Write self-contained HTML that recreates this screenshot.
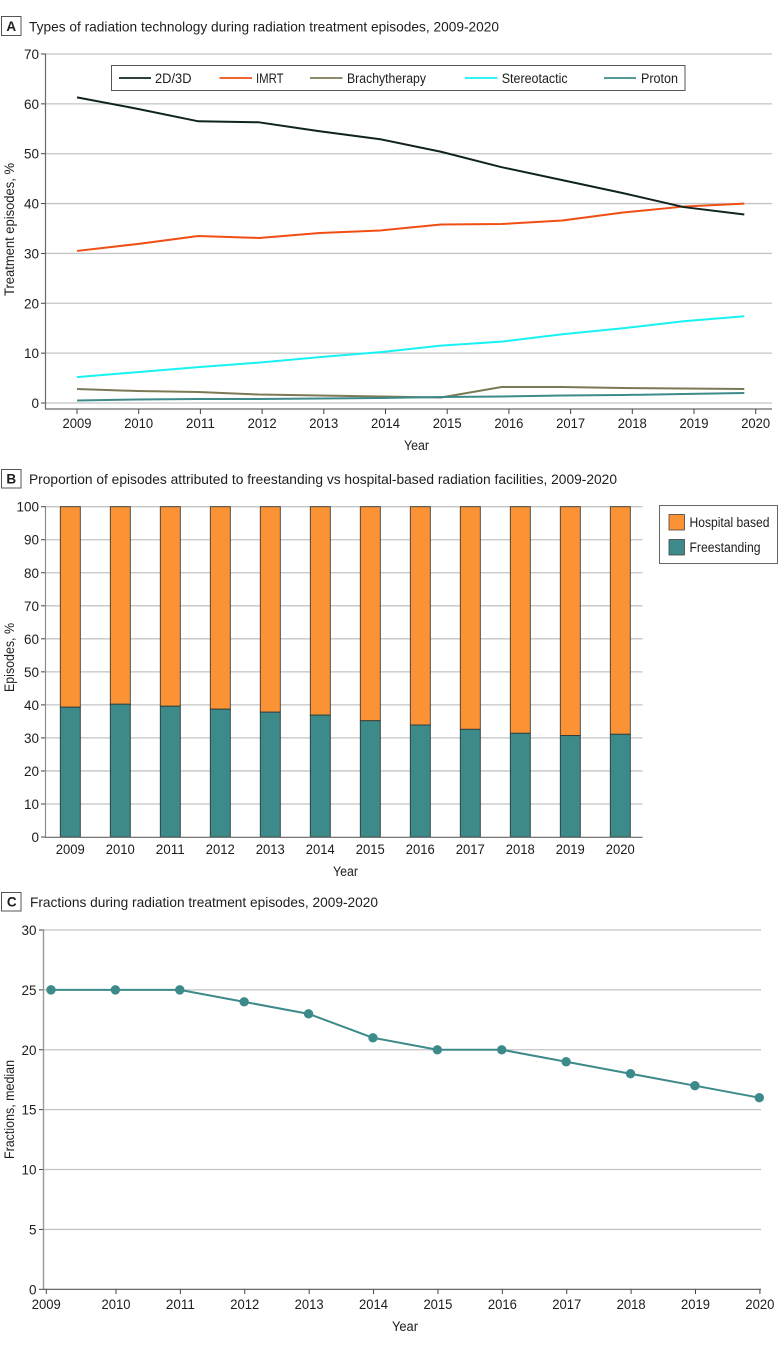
<!DOCTYPE html>
<html lang="en">
<head>
<meta charset="utf-8">
<title>Radiation treatment episodes, 2009-2020</title>
<style>
html,body{margin:0;padding:0;background:#fff;}
svg{display:block;}
text{font-family:"Liberation Sans",sans-serif;fill:#1d1d1b;}
</style>
</head>
<body>
<svg id="figure" xmlns="http://www.w3.org/2000/svg" width="780" height="1349" viewBox="0 0 780 1349">
  <g>
    <rect x="1.5" y="16.5" width="19.5" height="19" fill="#fff" stroke="#555" stroke-width="1"/>
    <text x="11.2" y="31" font-size="13.5" font-weight="bold" text-anchor="middle">A</text>
    <text x="29" y="31.5" font-size="14" textLength="470" lengthAdjust="spacingAndGlyphs">Types of radiation technology during radiation treatment episodes, 2009-2020</text>
  </g>
  <g>
    <rect x="1.5" y="469.5" width="19.5" height="18.5" fill="#fff" stroke="#555" stroke-width="1"/>
    <text x="11.2" y="483.5" font-size="13.5" font-weight="bold" text-anchor="middle">B</text>
    <text x="29" y="484" font-size="14" textLength="588" lengthAdjust="spacingAndGlyphs">Proportion of episodes attributed to freestanding vs hospital-based radiation facilities, 2009-2020</text>
  </g>
  <g>
    <rect x="1.5" y="892.5" width="19.5" height="18.5" fill="#fff" stroke="#555" stroke-width="1"/>
    <text x="11.7" y="906.5" font-size="13.5" font-weight="bold" text-anchor="middle">C</text>
    <text x="30" y="907" font-size="14" textLength="348" lengthAdjust="spacingAndGlyphs">Fractions during radiation treatment episodes, 2009-2020</text>
  </g>

  <g id="chart-a"></g>
  <g id="chart-b"></g>
  <g id="chart-c"></g>

  <g>
    <rect x="111.5" y="65.5" width="573.5" height="25" fill="#fff" stroke="#555" stroke-width="1"/>
    <line x1="119" x2="151" y1="78" y2="78" stroke="#10241f" stroke-width="1.8"/>
    <text x="155" y="83" font-size="13.5" textLength="36.5" lengthAdjust="spacingAndGlyphs">2D/3D</text>
    <line x1="219.5" x2="252" y1="78" y2="78" stroke="#f04e12" stroke-width="1.8"/>
    <text x="256" y="83" font-size="13.5" textLength="27.5" lengthAdjust="spacingAndGlyphs">IMRT</text>
    <line x1="310" x2="342.5" y1="78" y2="78" stroke="#7c7a55" stroke-width="1.8"/>
    <text x="347" y="83" font-size="13.5" textLength="79" lengthAdjust="spacingAndGlyphs">Brachytherapy</text>
    <line x1="465" x2="497.5" y1="78" y2="78" stroke="#19f2f2" stroke-width="1.8"/>
    <text x="501.7" y="83" font-size="13.5" textLength="66" lengthAdjust="spacingAndGlyphs">Stereotactic</text>
    <line x1="604" x2="636" y1="78" y2="78" stroke="#3d8a8a" stroke-width="1.8"/>
    <text x="641" y="83" font-size="13.5" textLength="37" lengthAdjust="spacingAndGlyphs">Proton</text>
  </g>

  <g>
    <rect x="659.5" y="505.5" width="118" height="58" fill="#fff" stroke="#666" stroke-width="1"/>
    <rect x="669" y="514.5" width="15.5" height="15.5" fill="#fb9334" stroke="#444" stroke-width="0.8"/>
    <text x="689.5" y="527" font-size="13.5" textLength="80" lengthAdjust="spacingAndGlyphs">Hospital based</text>
    <rect x="669" y="539.5" width="15.5" height="15.5" fill="#3d8a8a" stroke="#444" stroke-width="0.8"/>
    <text x="689.5" y="552" font-size="13.5" textLength="71" lengthAdjust="spacingAndGlyphs">Freestanding</text>
  </g>
</svg>

<script>
const years = ['2009','2010','2011','2012','2013','2014','2015','2016','2017','2018','2019','2020'];

const series2d3d = [61.3,59.0,56.5,56.3,54.5,52.9,50.4,47.3,44.7,42.1,39.3,37.8];
const seriesImrt = [30.5,31.9,33.5,33.1,34.1,34.6,35.8,35.9,36.6,38.2,39.4,40.0];
const seriesBrachy = [2.8,2.4,2.2,1.7,1.5,1.3,1.1,3.2,3.2,3.0,2.9,2.8];
const seriesStereo = [5.2,6.2,7.2,8.1,9.2,10.2,11.5,12.3,13.8,15.0,16.4,17.4];
const seriesProton = [0.5,0.7,0.8,0.8,0.9,1.0,1.2,1.3,1.5,1.6,1.8,2.0];
const ticksA = [0,10,20,30,40,50,60,70];

const freestanding = [39.3,40.2,39.6,38.7,37.8,36.9,35.2,33.9,32.6,31.4,30.7,31.1];
const hospitalBased = [60.7,59.8,60.4,61.3,62.2,63.1,64.8,66.1,67.4,68.6,69.3,68.9];
const ticksB = [0,10,20,30,40,50,60,70,80,90,100];

const fractionsMedian = [25,25,25,24,23,21,20,20,19,18,17,16];
const ticksC = [0,5,10,15,20,25,30];

const NS = 'http://www.w3.org/2000/svg';
function make(parent, tag, attrs, content) {
  const node = document.createElementNS(NS, tag);
  Object.keys(attrs).forEach(function (k) { node.setAttribute(k, attrs[k]); });
  if (content !== undefined) node.textContent = content;
  parent.appendChild(node);
  return node;
}
const GRID = '#c4c4c4', AXIS = '#6a6a6a', TICK = '#444';
const YEAR_W = 29;

function yLabel(parent, text, x, y, width) {
  return make(parent, 'text', {x: x, y: y, 'font-size': 13.5, 'text-anchor': 'end', textLength: width, lengthAdjust: 'spacingAndGlyphs'}, text);
}
function tickWidth(v) { return String(v).length === 1 ? 7.5 : (String(v).length === 2 ? 15 : 22.5); }

/* ---------- Panel A ---------- */
(function () {
  const g = document.getElementById('chart-a');
  const y = function (v) { return 403 - (v / 70) * 349; };
  const xData = function (i) { return 77 + i * (744.3 - 77) / (years.length - 1); };
  const xTick = function (i) { return 77 + i * (755.7 - 77) / (years.length - 1); };

  ticksA.forEach(function (t) {
    const grid = make(g, 'line', {x1: 46, x2: 772, y1: y(t), y2: y(t), stroke: GRID, 'stroke-width': 1.3});
    
    
    const mark = make(g, 'line', {x1: 41, x2: 46, y1: y(t), y2: y(t), stroke: TICK, 'stroke-width': 1});
    
    
    const label = yLabel(g, t, 39, y(t) + 5, tickWidth(t));
    
    
  });
  const yAxis = make(g, 'line', {x1: 45.5, x2: 45.5, y1: 54, y2: 409.5, stroke: AXIS, 'stroke-width': 1.2});
  
  
  const xAxis = make(g, 'line', {x1: 45, x2: 772, y1: 409, y2: 409, stroke: AXIS, 'stroke-width': 1.2});
  
  

  years.forEach(function (yr, i) {
    const mark = make(g, 'line', {x1: xTick(i), x2: xTick(i), y1: 409, y2: 414, stroke: TICK, 'stroke-width': 1});
    
    
    const label = make(g, 'text', {x: xTick(i), y: 428, 'font-size': 13.5, 'text-anchor': 'middle', textLength: YEAR_W, lengthAdjust: 'spacingAndGlyphs'}, yr);
    
    
  });

  function drawLine(values, color) {
    const pts = values.map(function (v, i) { return xData(i) + ',' + y(v); }).join(' ');
    return make(g, 'polyline', {points: pts, fill: 'none', stroke: color, 'stroke-width': 2, 'stroke-linejoin': 'round'});
  }
  const lineBrachy = drawLine(seriesBrachy, '#7c7a55');
  
  
  const lineProton = drawLine(seriesProton, '#3d8a8a');
  
  
  const lineStereo = drawLine(seriesStereo, '#19f2f2');
  
  
  const lineImrt = drawLine(seriesImrt, '#f04e12');
  
  
  const line2d = drawLine(series2d3d, '#10241f');
  
  

  const xt = make(g, 'text', {x: 416.5, y: 450, 'font-size': 13.5, 'text-anchor': 'middle', textLength: 25, lengthAdjust: 'spacingAndGlyphs'}, 'Year');
  
  
  const yt = make(g, 'text', {x: 0, y: 0, transform: 'translate(14,229.5) rotate(-90)', 'font-size': 13.5, 'text-anchor': 'middle', textLength: 133, lengthAdjust: 'spacingAndGlyphs'}, 'Treatment episodes, %');
  
  
})();

/* ---------- Panel B ---------- */
(function () {
  const g = document.getElementById('chart-b');
  const y = function (v) { return 837 - (v / 100) * 330.3; };
  const x = function (i) { return 70.3 + i * 50; };
  const BAR_W = 20;

  ticksB.forEach(function (t) {
    if (t > 0) {
      const grid = make(g, 'line', {x1: 46, x2: 642.5, y1: y(t), y2: y(t), stroke: GRID, 'stroke-width': 1.3});
      
      
    }
    const mark = make(g, 'line', {x1: 41, x2: 46, y1: y(t), y2: y(t), stroke: TICK, 'stroke-width': 1});
    
    
    const label = yLabel(g, t, 39, y(t) + 5, tickWidth(t));
    
    
  });

  years.forEach(function (yr, i) {
    const top = make(g, 'rect', {x: x(i) - BAR_W / 2, y: y(freestanding[i] + hospitalBased[i]), width: BAR_W, height: y(freestanding[i]) - y(freestanding[i] + hospitalBased[i]), fill: '#fb9334', stroke: '#3b3b3b', 'stroke-width': 0.9});
    
    
    const bottom = make(g, 'rect', {x: x(i) - BAR_W / 2, y: y(freestanding[i]), width: BAR_W, height: y(0) - y(freestanding[i]), fill: '#3d8a8a', stroke: '#2b3b3b', 'stroke-width': 0.9});
    
    
    const label = make(g, 'text', {x: x(i), y: 854, 'font-size': 13.5, 'text-anchor': 'middle', textLength: YEAR_W, lengthAdjust: 'spacingAndGlyphs'}, yr);
    
    
  });

  const yAxis = make(g, 'line', {x1: 45.5, x2: 45.5, y1: 506.7, y2: 837.5, stroke: '#8a8a8a', 'stroke-width': 1.2});
  
  
  const xAxis = make(g, 'line', {x1: 45, x2: 642.5, y1: 837.3, y2: 837.3, stroke: '#666', 'stroke-width': 1.2});
  
  

  const xt = make(g, 'text', {x: 345.5, y: 876, 'font-size': 13.5, 'text-anchor': 'middle', textLength: 25, lengthAdjust: 'spacingAndGlyphs'}, 'Year');
  
  
  const yt = make(g, 'text', {x: 0, y: 0, transform: 'translate(14,657.5) rotate(-90)', 'font-size': 13.5, 'text-anchor': 'middle', textLength: 69, lengthAdjust: 'spacingAndGlyphs'}, 'Episodes, %');
  
  
})();

/* ---------- Panel C ---------- */
(function () {
  const g = document.getElementById('chart-c');
  const y = function (v) { return 1289.3 - (v / 30) * 359.3; };
  const x = function (i) { return 51 + i * (759.3 - 51) / (years.length - 1); };
  const tickX = function (i) { return i === 0 ? x(0) - 4.7 : x(i) + 0.6; };

  ticksC.forEach(function (t) {
    if (t > 0) {
      const grid = make(g, 'line', {x1: 44, x2: 761, y1: y(t), y2: y(t), stroke: GRID, 'stroke-width': 1.3});
      
      
    }
    const mark = make(g, 'line', {x1: 39, x2: 44, y1: y(t), y2: y(t), stroke: TICK, 'stroke-width': 1});
    
    
    const label = yLabel(g, t, 36.5, y(t) + 5, tickWidth(t));
    
    
  });

  const yAxis = make(g, 'line', {x1: 43.5, x2: 43.5, y1: 930, y2: 1289.5, stroke: '#999', 'stroke-width': 1.4});
  
  
  const xAxis = make(g, 'line', {x1: 43, x2: 761, y1: 1289.3, y2: 1289.3, stroke: '#555', 'stroke-width': 1.1});
  
  

  years.forEach(function (yr, i) {
    const mark = make(g, 'line', {x1: tickX(i), x2: tickX(i), y1: 1289.3, y2: 1294, stroke: TICK, 'stroke-width': 1});
    
    
    const label = make(g, 'text', {x: tickX(i), y: 1309, 'font-size': 13.5, 'text-anchor': 'middle', textLength: YEAR_W, lengthAdjust: 'spacingAndGlyphs'}, yr);
    
    
  });

  const line = make(g, 'polyline', {points: fractionsMedian.map(function (v, i) { return x(i) + ',' + y(v); }).join(' '), fill: 'none', stroke: '#3d8a8a', 'stroke-width': 2, 'stroke-linejoin': 'round'});
  
  
  fractionsMedian.forEach(function (v, i) {
    const pt = make(g, 'circle', {cx: x(i), cy: y(v), r: 4.7, fill: '#3d8a8a'});
    
    
  });

  const xt = make(g, 'text', {x: 405, y: 1331, 'font-size': 13.5, 'text-anchor': 'middle', textLength: 26, lengthAdjust: 'spacingAndGlyphs'}, 'Year');
  
  
  const yt = make(g, 'text', {x: 0, y: 0, transform: 'translate(14,1109.5) rotate(-90)', 'font-size': 13.5, 'text-anchor': 'middle', textLength: 99, lengthAdjust: 'spacingAndGlyphs'}, 'Fractions, median');
  
  
})();
</script>
</body>
</html>
